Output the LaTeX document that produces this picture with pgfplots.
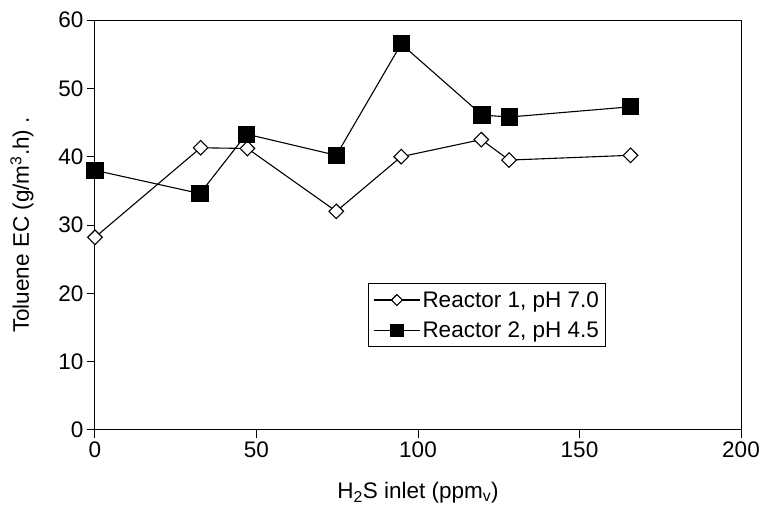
\documentclass[border=0pt]{standalone}
\usepackage{fontspec}
\setmainfont{Liberation Sans}
\usepackage{pgfplots}
\pgfplotsset{compat=1.18}
\begin{document}
\begin{tikzpicture}[x=1pt,y=1pt]
\begin{axis}[
  name=ax,
  at={(0,0)}, anchor=south west,
  scale only axis,
  width=646pt, height=410pt,
  xmin=0, xmax=200, ymin=0, ymax=60,
  xtick={0,50,100,150,200},
  ytick={0,10,20,30,40,50,60},
  xtick pos=left, ytick pos=left,
  tick align=outside,
  major tick length=8pt,
  tick style={black, line width=1pt},
  axis line style={black, line width=1pt},
  /pgf/number format/assume math mode=true,
  ticklabel style={font=\fontsize{22.5}{27}\selectfont},
  xlabel={H\textsubscript{2}S inlet (ppm\textsubscript{v})},
  ylabel={Toluene EC (g/m\textsuperscript{3}.h) .},
  label style={font=\fontsize{22.5}{27}\selectfont},
  xlabel style={at={(axis description cs:0.5,0)}, anchor=center, yshift=-63pt},
  ylabel style={at={(axis description cs:-0.113,0.5)}, anchor=center},
  legend style={at={(0.4226,0.3585)}, anchor=north west, draw=black, line width=0.8pt,
    font=\fontsize{22.5}{27}\selectfont, inner xsep=5pt, inner ysep=6pt, row sep=9pt,
    cells={anchor=west}},
  legend cell align=left,
  legend image code/.code={\draw[mark repeat=2,mark phase=2,every mark/.append style={scale=0.75},#1] plot coordinates {(0pt,0pt) (23pt,0pt) (46pt,0pt)};},
]
\addplot[black, line width=1.1pt, mark=diamond*, mark size=7.3pt,
  mark options={fill=white, line width=1.1pt, xscale=1.33}] coordinates {
  (0,28.2) (32.7,41.3) (47.2,41.2) (74.7,32.0) (94.8,40.0) (119.6,42.5) (128.2,39.5) (165.8,40.2)};
\addlegendentry{Reactor 1, pH 7.0\hspace{5pt}}
\addplot[black, line width=1.1pt, mark=square*, mark size=8pt,
  mark options={fill=black}] coordinates {
  (0,38.0) (32.5,34.6) (46.9,43.3) (74.7,40.2) (94.8,56.5) (119.8,46.1) (128.2,45.8) (165.8,47.3)};
\addlegendentry{Reactor 2, pH 4.5}
\end{axis}
\pgfresetboundingbox
\path[use as bounding box] (-95pt,-81pt) rectangle (666pt,430pt);
\end{tikzpicture}
\end{document}
